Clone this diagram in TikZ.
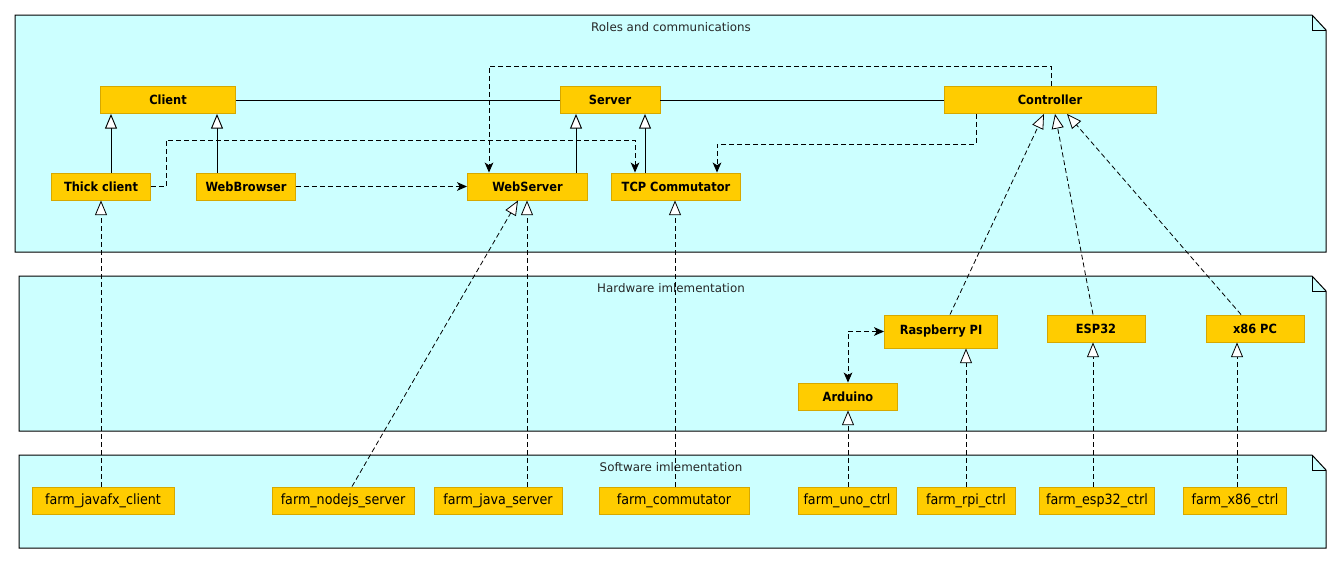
\documentclass[tikz,border=0pt]{standalone}
\usepackage{fontspec}
\setmainfont{DejaVu Sans}
\newfontfamily\condfont{DejaVu Sans Condensed}
\usetikzlibrary{arrows.meta}
\definecolor{pkgfill}{RGB}{204,255,255}
\definecolor{clsfill}{RGB}{255,204,0}
\definecolor{clsline}{RGB}{214,168,0}
\tikzset{
    wd/.style={minimum width=#1*0.75pt},
    ht/.style={minimum height=#1*0.75pt},
    pkg/.style={draw=black,fill=pkgfill,line width=0.75pt},
    fold/.style={draw=black,line width=0.6pt},
    pkgtitle/.style={inner sep=0pt,text=black!85,font=\fontsize{8.9}{10}\selectfont},
    cls/.style={fill=clsfill,draw=clsline,line width=0.7pt,inner sep=0pt,ht=27,
        text=black,font=\condfont\bfseries\fontsize{9.5}{11}\selectfont},
    impl/.style={cls,font=\condfont\fontsize{10.6}{12}\selectfont},
    assoc/.style={draw,line width=0.7pt},
    gen/.style={draw,line width=0.7pt,-{Triangle[length=11pt,width=9pt,fill=white]}},
    real/.style={gen,line width=0.6pt,dash pattern=on 3.75pt off 2.25pt},
    dep/.style={draw,line width=0.7pt,dash pattern=on 3.75pt off 2.25pt,
        -{Stealth[length=7.5pt,width=6.5pt,inset=2pt]}}
}
\begin{document}
\begin{tikzpicture}[x=0.75pt,y=-0.75pt]
    \useasboundingbox (0,0) rectangle (1342,564);
    % packages
    \foreach \xl/\yt/\yb/\title [count=\n] in {15/15/252/Roles and communications,
        19/276/431/Hardware imlementation,19/455/548/Software imlementation} {
        \draw[pkg] (\xl,\yt) -- (1312,\yt) -- (1326,\yt+15) -- (1326,\yb) -- (\xl,\yb) -- cycle;
        \draw[fold] (1312,\yt) -- (1312,\yt+15) -- (1326,\yt+15);
        \node[pkgtitle] (title\n) at (671,\yt+12) {\title};
    }
    % roles
    \node[cls,wd=135] (client) at (168,100) {Client};
    \node[cls,wd=100] (server) at (610,100) {Server};
    \node[cls,wd=212] (ctrl) at (1050,100) {Controller};
    \node[cls,wd=99] (thick) at (101,186.5) {Thick client};
    \node[cls,wd=99] (browser) at (246,186.5) {WebBrowser};
    \node[cls,wd=120] (websrv) at (527.5,186.5) {WebServer};
    \node[cls,wd=129] (tcp) at (676,186.5) {TCP Commutator};
    % hardware
    \node[cls,wd=113,ht=33] (rpi) at (941,331.5) {Raspberry PI};
    \node[cls,wd=98] (esp) at (1096,328.5) {ESP32};
    \node[cls,wd=98] (x86) at (1255,328.5) {x86 PC};
    \node[cls,wd=99] (ard) at (848,396.5) {Arduino};
    % software
    \foreach \name/\x/\w/\txt in {javafx/103/142/farm\_javafx\_client,
        nodejs/343/142/farm\_nodejs\_server,javasrv/498/128/farm\_java\_server,
        commut/674/150/farm\_commutator,uno/847/98/farm\_uno\_ctrl,
        rpictrl/966/98/farm\_rpi\_ctrl,espctrl/1097/115/farm\_esp32\_ctrl,
        x86ctrl/1235/103/farm\_x86\_ctrl} {
        \node[impl,wd=\w] (\name) at (\x,500.5) {\txt};
    }
    % associations
    \draw[assoc] (client) -- (server);
    \draw[assoc] (server) -- (ctrl);
    \draw[gen] (111,0 |- thick.north) -- (111,0 |- client.south);
    \draw[gen] (217,0 |- browser.north) -- (217,0 |- client.south);
    \draw[gen] (576,0 |- websrv.north) -- (576,0 |- server.south);
    \draw[gen] (645,0 |- tcp.north) -- (645,0 |- server.south);
    % dependencies
    \draw[dep] (thick.east) -| (166,140) -| (635,0 |- tcp.north);
    \draw[dep] (browser) -- (websrv);
    \draw[dep] (1051,0 |- ctrl.north) |- (489,66) -- (489,0 |- websrv.north);
    \draw[dep] (976,0 |- ctrl.south) |- (717,144) -- (717,0 |- tcp.north);
    \draw[dep,{Stealth[length=7.5pt,width=6.5pt,inset=2pt]}-{Stealth[length=7.5pt,width=6.5pt,inset=2pt]}]
        (rpi.west) -| (848,0 |- ard.north);
    % realizations
    \draw[real] (950,0 |- rpi.north) -- (1044,0 |- ctrl.south);
    \draw[real] (1093,0 |- esp.north) -- (1055,0 |- ctrl.south);
    \draw[real] (1241,0 |- x86.north) -- (1067,0 |- ctrl.south);
    \draw[real] (101,0 |- javafx.north) -- (101,0 |- thick.south);
    \draw[real] (352,0 |- nodejs.north) -- (518,0 |- websrv.south);
    \draw[real] (527,0 |- javasrv.north) -- (527,0 |- websrv.south);
    \draw[real] (675,0 |- commut.north) -- (675,0 |- tcp.south);
    \draw[real] (848,0 |- uno.north) -- (848,0 |- ard.south);
    \draw[real] (966,0 |- rpictrl.north) -- (966,0 |- rpi.south);
    \draw[real] (1093,0 |- espctrl.north) -- (1093,0 |- esp.south);
    \draw[real] (1237,0 |- x86ctrl.north) -- (1237,0 |- x86.south);
\end{tikzpicture}
\end{document}
